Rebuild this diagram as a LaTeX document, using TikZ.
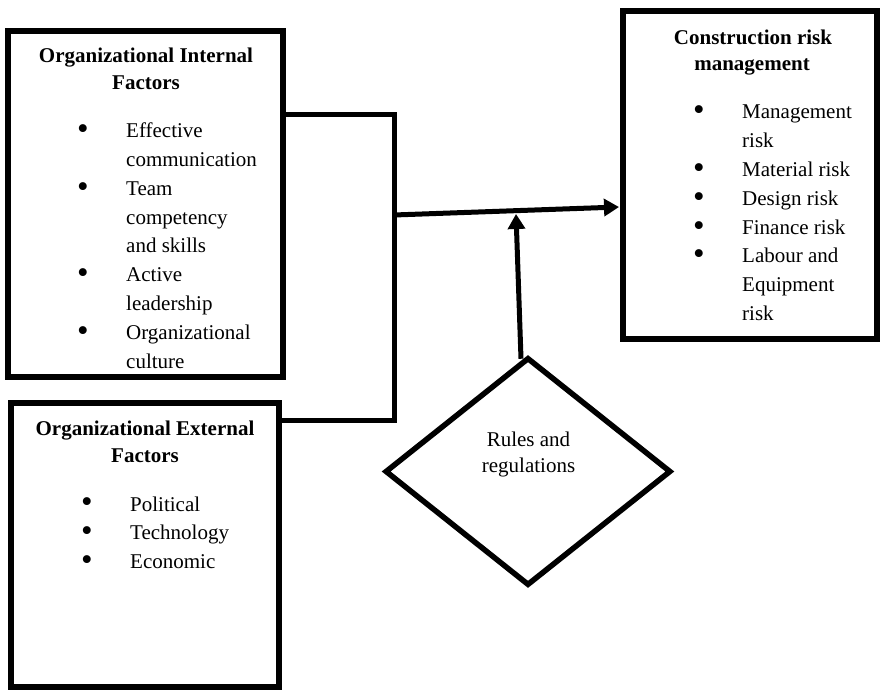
\documentclass[tikz,border=0pt]{standalone}
\usepackage{fontspec}
\setmainfont{Liberation Serif}
\usetikzlibrary{arrows.meta,shapes.geometric}
\begin{document}
\begin{tikzpicture}[x=1pt,y=-1pt,
  box/.style={draw, line width=6pt, rectangle, inner sep=0pt},
  conn/.style={line width=5pt, line join=miter},
  arr/.style={line width=5pt, -{Triangle[length=15pt,width=17pt]}},
  every node/.append style={font=\fontsize{21}{26}\selectfont},
  ttl/.style={inner sep=0pt, anchor=base, font=\fontsize{21}{26}\selectfont\bfseries},
  itm/.style={inner sep=0pt, anchor=base west},
  bul/.style={inner sep=0pt, anchor=center, font=\fontsize{33}{36}\selectfont}]
\useasboundingbox (0,0) rectangle (880,692);

% boxes
\node[box, minimum width=275pt, minimum height=346pt] (int) at (145.5,204) {};
\node[box, minimum width=267.5pt, minimum height=284pt] (ext) at (144.75,545) {};
\node[box, minimum width=254pt, minimum height=328pt] (cr) at (750,175) {};
\node[draw, diamond, line width=5.5pt, minimum width=286pt, minimum height=228pt, inner sep=0pt] (dia) at (528,471.5) {};

% internal factors text
\node[ttl] (it1) at (146,63) {Organizational Internal};
\node[ttl] (it2) at (146,90) {Factors};
\foreach \k/\t in {0/Effective,1/communication,2/Team,3/competency,4/and skills,5/Active,6/leadership,7/Organizational,8/culture}
  \node[itm] (ii\k) at (126,{138+28.75*\k}) {\t};
\foreach \k in {0,2,5,7}
  \node[bul] (ib\k) at (83,{132.5+28.75*\k}) {•};

% external factors text
\node[ttl] (et1) at (145,435) {Organizational External};
\node[ttl] (et2) at (145,462) {Factors};
\foreach \k/\t in {0/Political,1/Technology,2/Economic}
  \node[itm] (ei\k) at (130,{511+28.75*\k}) {\t};
\foreach \k in {0,1,2}
  \node[bul] (eb\k) at (87,{505.5+28.75*\k}) {•};

% construction risk management text
\node[ttl] (ct1) at (753,45) {Construction risk};
\node[ttl] (ct2) at (752,71) {management};
\foreach \k/\t in {0/Management,1/risk,2/Material risk,3/Design risk,4/Finance risk,5/Labour and,6/Equipment,7/risk}
  \node[itm] (ci\k) at (742,{119+28.8*\k}) {\t};
\foreach \k in {0,2,3,4,5}
  \node[bul] (cb\k) at (699,{113.5+28.8*\k}) {•};

% diamond text
\node[inner sep=0pt, anchor=base] (dt1) at (528.5,446) {Rules and};
\node[inner sep=0pt, anchor=base] (dt2) at (528.5,472) {regulations};

% connectors
\coordinate (ya) at (0,115);
\coordinate (jn) at (394,420);
\draw[conn] (int.east |- ya) -| (jn) -- (ext.east |- jn);
\coordinate (ms) at (394,215);
\coordinate (mt) at (0,207);
\draw[arr] (ms) -- ([xshift=-1pt]cr.west |- mt);
\coordinate (vt) at (516,214);
\draw[arr] ([xshift=-7pt,yshift=-4pt]dia.north) -- (vt);
\end{tikzpicture}
\end{document}
